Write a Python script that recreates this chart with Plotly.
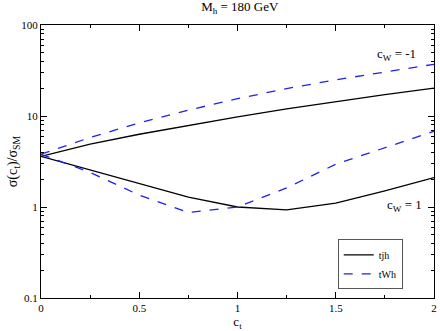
import plotly.graph_objects as go

ct = [0, 0.25, 0.5, 0.75, 1.0, 1.25, 1.5, 1.75, 2.0]

# c_W = -1
tjh_m1 = [3.6, 4.9, 6.3, 7.9, 9.8, 12.0, 14.5, 17.2, 20.2]
twh_m1 = [3.8, 5.8, 8.4, 11.6, 15.5, 20.0, 25.0, 30.5, 37.0]
# c_W = 1
tjh_p1 = [3.6, 2.55, 1.82, 1.28, 1.0, 0.93, 1.1, 1.5, 2.1]
twh_p1 = [3.8, 2.4, 1.35, 0.87, 1.0, 1.62, 2.95, 4.5, 6.8]

x_ticks = [0, 0.5, 1, 1.5, 2]
x_labels = ["0", "0.5", "1", "1.5", "2"]
y_ticks = [0.1, 1, 10, 100]
y_labels = ["0.1", "1", "10", "100"]

FONT = "Liberation Serif"

fig = go.Figure()
for i, (y_tjh, y_twh) in enumerate([(tjh_m1, twh_m1), (tjh_p1, twh_p1)]):
    fig.add_trace(go.Scatter(x=ct, y=y_tjh, mode="lines", name="tjh",
                             line=dict(color="black", width=1.3),
                             showlegend=(i == 0)))
    fig.add_trace(go.Scatter(x=ct, y=y_twh, mode="lines", name="tWh",
                             line=dict(color="#2020f0", width=1.3, dash="dash"),
                             showlegend=(i == 0)))

fig.update_layout(
    width=440, height=331,
    margin=dict(l=41, r=6, t=25, b=33),
    plot_bgcolor="white", paper_bgcolor="white",
    font=dict(family=FONT, size=11, color="black"),
    title=dict(text="M<sub>h</sub> = 180 GeV", x=0.545, xanchor="center",
               y=0.993, yanchor="top", font=dict(size=13)),
    legend=dict(x=0.755, y=0.215, xanchor="left", yanchor="top",
                bordercolor="#555555", borderwidth=1, bgcolor="white",
                font=dict(size=10), tracegroupgap=0, itemwidth=30),
    showlegend=True,
)

fig.update_xaxes(range=[0, 2], tickvals=x_ticks, ticktext=x_labels,
                 ticks="inside", ticklen=6, tickcolor="black",
                 minor=dict(ticks="inside", ticklen=3, dtick=0.25, tickcolor="black"),
                 showline=True, linecolor="black", linewidth=1.2, mirror="ticks",
                 showgrid=False, zeroline=False, automargin=False,
                 title=dict(text="c<sub>t</sub>", standoff=0, font=dict(size=13)))
fig.update_yaxes(type="log", range=[-1, 2],
                 tickvals=y_ticks, ticktext=y_labels,
                 ticks="inside", ticklen=6, tickcolor="black",
                 minor=dict(ticks="inside", ticklen=3, tickcolor="black",
                            tickvals=[m * 10 ** e for e in (-1, 0, 1) for m in range(2, 10)]),
                 showline=True, linecolor="black", linewidth=1.2, mirror="ticks",
                 showgrid=False, zeroline=False, automargin=False,
                 title=dict(text="σ(c<sub>t</sub>)/σ<sub>SM</sub>", standoff=0, font=dict(size=14)))

fig.add_annotation(x=1.92, y=1.68, xref="x", yref="y", text="c<sub>W</sub> = -1",
                   showarrow=False, xanchor="right", font=dict(size=13))
fig.add_annotation(x=1.95, y=0.02, xref="x", yref="y", text="c<sub>W</sub> = 1",
                   showarrow=False, xanchor="right", font=dict(size=13))

fig.write_html("out.html", config={"displayModeBar": False},
               post_script="document.body.style.margin='0';")
